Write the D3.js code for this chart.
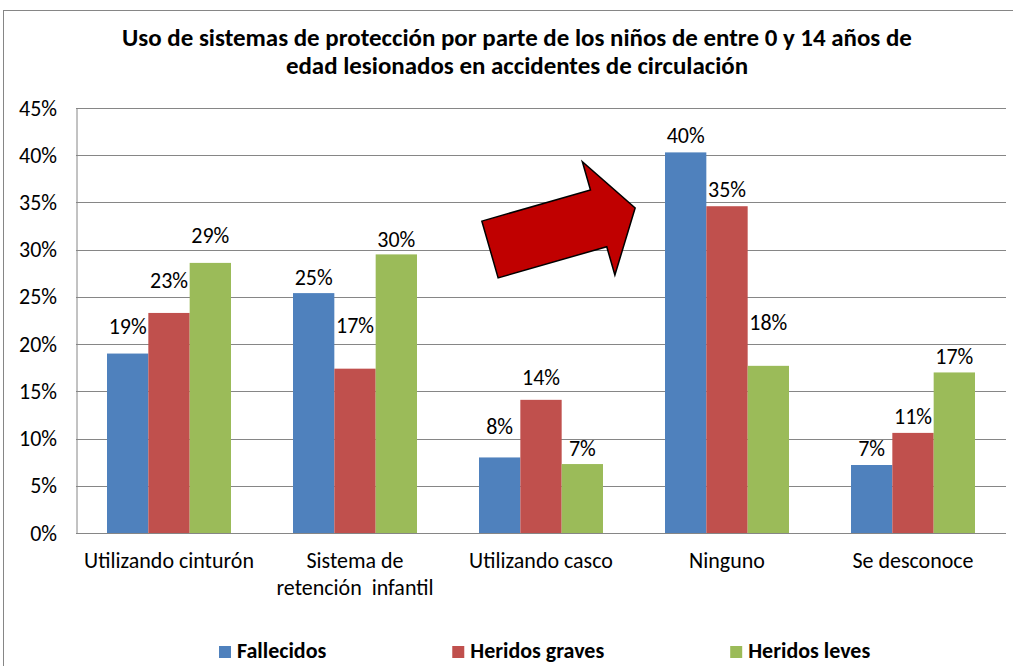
<!DOCTYPE html>
<html>
<head>
<meta charset="utf-8">
<script src="https://cdn.jsdelivr.net/npm/d3@7"></script>
<style>
  body { margin: 0; background: #fff; }
  svg text { font-family: Calibri, Carlito, "Open Sans", sans-serif; fill: #000; }
</style>
</head>
<body>
<svg id="chart" width="1013" height="666"></svg>
<script>
// data
const categories = ["Utilizando cinturón", "Sistema de retención  infantil", "Utilizando casco", "Ninguno", "Se desconoce"];
const categoryLines = [["Utilizando cinturón"], ["Sistema de", "retención  infantil"], ["Utilizando casco"], ["Ninguno"], ["Se desconoce"]];
const seriesNames = ["Fallecidos", "Heridos graves", "Heridos leves"];
const fallecidos = [19.0, 25.4, 8.0, 40.3, 7.2];
const heridosGraves = [23.3, 17.4, 14.1, 34.6, 10.6];
const heridosLeves = [28.6, 29.5, 7.3, 17.7, 17.0];
const yTicks = [0, 5, 10, 15, 20, 25, 30, 35, 40, 45];
const titleLines = ["Uso de sistemas de protección por parte de los niños de entre 0 y 14 años de",
                    "edad lesionados en accidentes de circulación"];

// how far above each bar its label sits (px), labels were nudged by hand in the original
const labelLift = [[27, 16, 31, 17, 17], [33, 43, 23, 17, 17], [28, 15, 16, 44, 16]];

const colors = ["#4F81BD", "#C0504D", "#9BBB59"];
const gridColor = "#868686";

let svg = d3.select("#chart");

let margin = { top: 108, right: 7, bottom: 133, left: 76 };
let width = 1013 - margin.left - margin.right;
let height = 666 - margin.top - margin.bottom;

// measure text so the fallback font gets the same widths as the original
function fitSize(str, target, weight) {
  let t = svg.append("text").attr("font-size", 100).attr("font-weight", weight).text(str);
  let w = t.node().getComputedTextLength();
  t.remove();
  return 100 * target / w;
}
let axisSize = fitSize("Utilizando cinturón", 170, "normal");
let titleSize = fitSize(titleLines[0], 790, "bold");
let legendSize = fitSize("Heridos graves", 134, "bold");

// outer frame
svg.append("rect")
  .attr("x", 3.5).attr("y", 10.5)
  .attr("width", 1030).attr("height", 700)
  .attr("fill", "none")
  .attr("stroke", gridColor);

// title
svg.append("g").selectAll("text")
  .data(titleLines)
  .enter()
  .append("text")
  .attr("x", 517)
  .attr("y", (d, i) => 46 + i * 28)
  .attr("text-anchor", "middle")
  .attr("font-weight", "bold")
  .attr("font-size", titleSize)
  .text(d => d);

let chartGroup = svg.append("g")
  .attr("transform", `translate(${margin.left}, ${margin.top})`);

let x0 = d3.scaleBand().domain(categories).range([0, width]);
let x1 = d3.scaleBand().domain(seriesNames).range([0, x0.bandwidth()]).paddingOuter(0.75);
let y = d3.scaleLinear().domain([0, 45]).range([height, 0]);

// gridlines
chartGroup.append("g")
  .selectAll("line")
  .data(yTicks)
  .enter()
  .append("line")
  .attr("x1", 0).attr("x2", width)
  .attr("y1", d => Math.round(y(d)) + 0.5)
  .attr("y2", d => Math.round(y(d)) + 0.5)
  .attr("stroke", gridColor);

// y axis
let leftAxis = d3.axisLeft(y).tickValues(yTicks).tickSize(0).tickPadding(19).tickFormat(d => d + "%");
let yAxis = chartGroup.append("g").call(leftAxis);
yAxis.select(".domain").attr("stroke", gridColor).attr("transform", "translate(0.5,0)");
yAxis.selectAll("text")
  .attr("font-size", axisSize)
  .attr("font-family", null)
  .attr("fill", "#000");

// bars
let series = [fallecidos, heridosGraves, heridosLeves];
let barData = [];
series.forEach((vals, s) => {
  vals.forEach((v, c) => {
    barData.push({ cat: categories[c], name: seriesNames[s], value: v, s: s, c: c });
  });
});

chartGroup.append("g")
  .selectAll("rect")
  .data(barData)
  .enter()
  .append("rect")
  .attr("x", d => x0(d.cat) + x1(d.name))
  .attr("y", d => y(d.value))
  .attr("width", x1.bandwidth())
  .attr("height", d => height - y(d.value))
  .attr("fill", d => colors[d.s]);

// bottom axis line
chartGroup.append("line")
  .attr("x1", 0).attr("x2", width)
  .attr("y1", height + 0.5).attr("y2", height + 0.5)
  .attr("stroke", gridColor);

// value labels
chartGroup.append("g")
  .selectAll("text")
  .data(barData)
  .enter()
  .append("text")
  .attr("x", d => x0(d.cat) + x1(d.name) + x1.bandwidth() / 2)
  .attr("y", d => y(d.value) - labelLift[d.s][d.c])
  .attr("dy", "0.35em")
  .attr("text-anchor", "middle")
  .attr("font-size", axisSize)
  .text(d => Math.round(d.value) + "%");

// category labels
let catGroup = chartGroup.append("g");
categories.forEach((cat, i) => {
  catGroup.selectAll(null)
    .data(categoryLines[i])
    .enter()
    .append("text")
    .attr("x", x0(cat) + x0.bandwidth() / 2)
    .attr("y", (d, j) => height + 35 + j * 27)
    .attr("text-anchor", "middle")
    .attr("font-size", axisSize)
    .style("white-space", "pre")
    .text(d => d);
});

// legend, equal gaps between items like Excel does it
let legend = svg.append("g").attr("transform", "translate(219, 658)");
let lx = 0;
seriesNames.forEach((name, i) => {
  legend.append("rect")
    .attr("x", lx).attr("y", -12)
    .attr("width", 12).attr("height", 12)
    .attr("fill", colors[i]);
  let t = legend.append("text")
    .attr("x", lx + 18)
    .attr("y", 0)
    .attr("font-weight", "bold")
    .attr("font-size", legendSize)
    .text(name);
  lx += 18 + t.node().getComputedTextLength() + 126;
});

// the red block arrow pointing at "Ninguno"
let arrowLen = 151, shaftHalf = 29.5, headHalf = 59, headLen = 38;
let arrowPts = [
  [0, -shaftHalf], [arrowLen - headLen, -shaftHalf], [arrowLen - headLen, -headHalf],
  [arrowLen, 0],
  [arrowLen - headLen, headHalf], [arrowLen - headLen, shaftHalf], [0, shaftHalf]
];
svg.append("path")
  .attr("d", d3.line()(arrowPts) + "Z")
  .attr("transform", "translate(490, 249.5) rotate(-16)")
  .attr("fill", "#C00000")
  .attr("stroke", "#000")
  .attr("stroke-width", 1.5)
  .attr("stroke-linejoin", "miter");
</script>
</body>
</html>
